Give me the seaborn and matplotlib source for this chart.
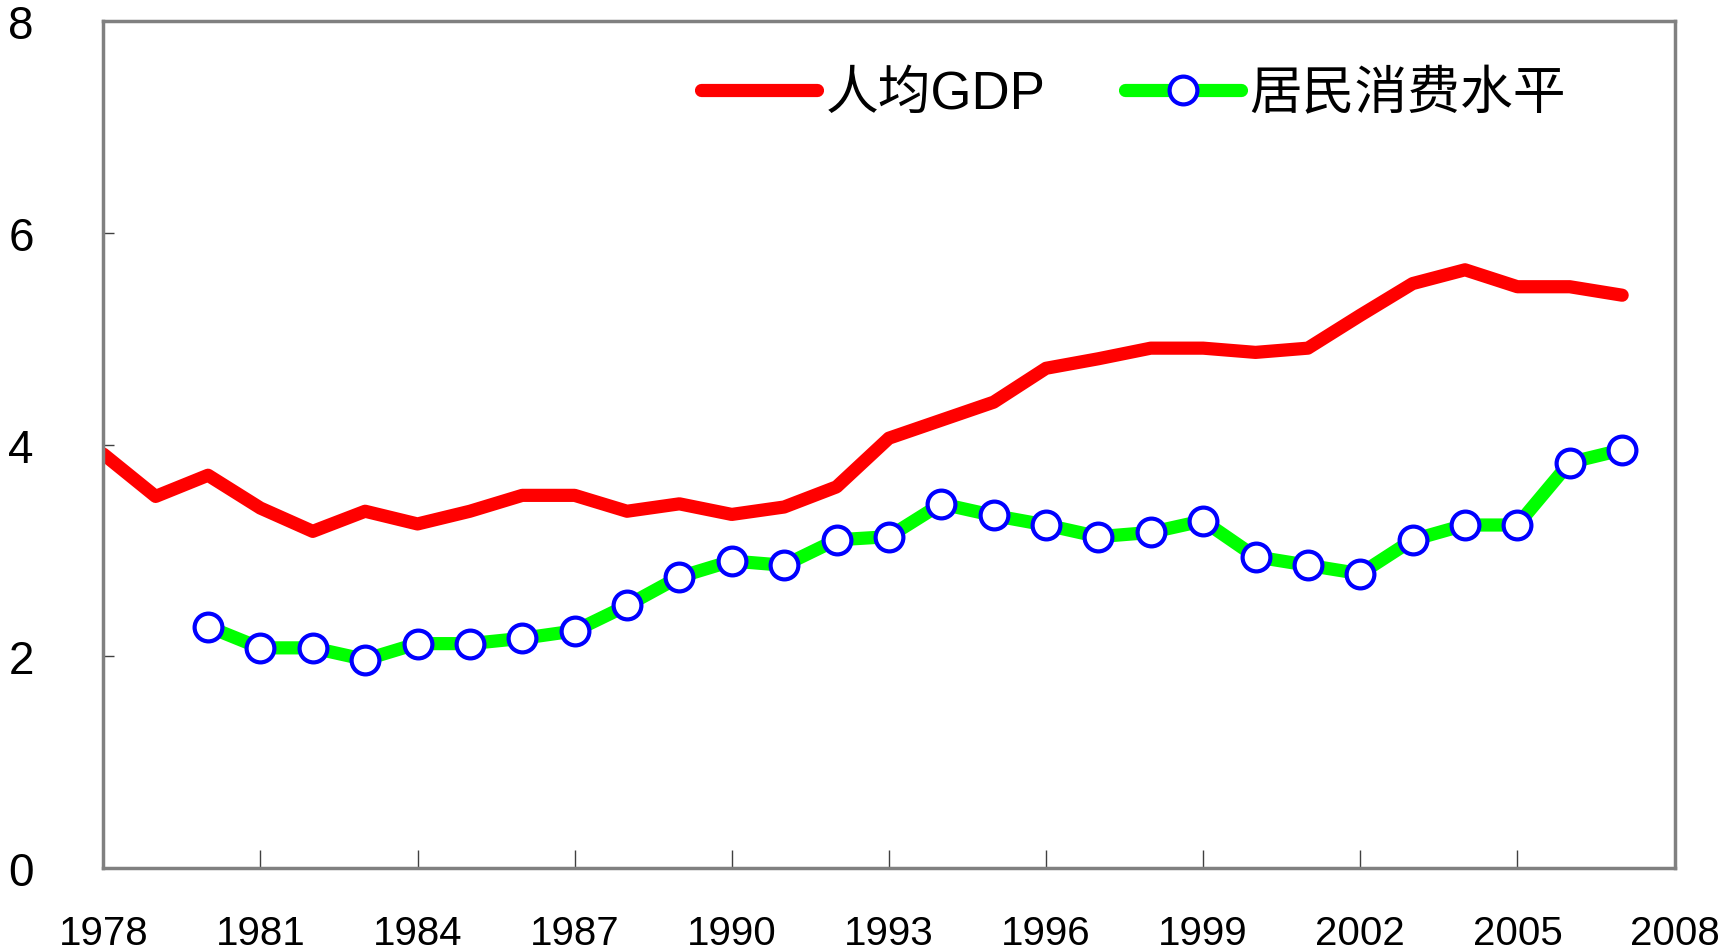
import numpy as np
import pandas as pd
import matplotlib
matplotlib.use("Agg")
import matplotlib.pyplot as plt
import seaborn as sns

years_gdp = list(range(1978, 2008))
gdp = [3.91, 3.51, 3.71, 3.40, 3.18, 3.37, 3.25, 3.37, 3.52, 3.52,
       3.37, 3.44, 3.34, 3.41, 3.60, 4.06, 4.23, 4.40, 4.72, 4.81,
       4.91, 4.91, 4.87, 4.91, 5.22, 5.52, 5.65, 5.49, 5.49, 5.41]

years_cons = list(range(1980, 2008))
cons = [2.28, 2.08, 2.08, 1.97, 2.12, 2.12, 2.17, 2.24, 2.48, 2.75,
        2.90, 2.86, 3.10, 3.13, 3.44, 3.33, 3.24, 3.13, 3.17, 3.28,
        2.94, 2.86, 2.78, 3.10, 3.24, 3.24, 3.83, 3.95]

labels = ["人均GDP", "居民消费水平"]
xticks = list(range(1978, 2009, 3))
yticks = [0, 2, 4, 6, 8]

sns.set_style("white")
plt.rcParams['font.family'] = ['Liberation Sans', 'Noto Sans CJK SC', 'DejaVu Sans']
plt.rcParams['text.color'] = 'black'
plt.rcParams['xtick.color'] = 'black'
plt.rcParams['ytick.color'] = 'black'

df_gdp = pd.DataFrame({"year": years_gdp, "value": gdp})
df_cons = pd.DataFrame({"year": years_cons, "value": cons})

fig = plt.figure(figsize=(17.21, 9.53), dpi=100)
ax = fig.add_axes([0.060, 0.088, 0.913, 0.889])

sns.lineplot(data=df_gdp, x="year", y="value", ax=ax, color="#ff0000",
             linewidth=9.5, label=labels[0], solid_capstyle="round")
sns.lineplot(data=df_cons, x="year", y="value", ax=ax, color="#00ff00",
             linewidth=9.5, marker="o", markersize=20, markerfacecolor="white",
             markeredgecolor="#0000ff", markeredgewidth=3, label=labels[1],
             solid_capstyle="round")

ax.set_xlim(1978, 2008)
ax.set_ylim(0, 8)
ax.set_xticks(xticks)
ax.set_yticks(yticks)
ax.set_xlabel("")
ax.set_ylabel("")

for s in ax.spines.values():
    s.set_color("#808080")
    s.set_linewidth(2.5)

ax.tick_params(axis="x", bottom=True, direction="in", length=13, width=1,
               color="#404040", labelcolor="black", pad=33, labelsize=29)
ax.tick_params(axis="y", left=True, direction="in", length=8, width=1,
               color="#404040", labelcolor="black", pad=50, labelsize=33)

leg = ax.legend(loc="center left", bbox_to_anchor=(701 / 1721, 1 - 95 / 953),
                bbox_transform=fig.transFigure, ncol=2, frameon=False,
                fontsize=38, handlelength=2.2, handletextpad=0.16,
                columnspacing=1.5, borderpad=0, borderaxespad=0)
for t in leg.get_texts():
    t.set_color("black")

fig.savefig("out.png", dpi=100)
